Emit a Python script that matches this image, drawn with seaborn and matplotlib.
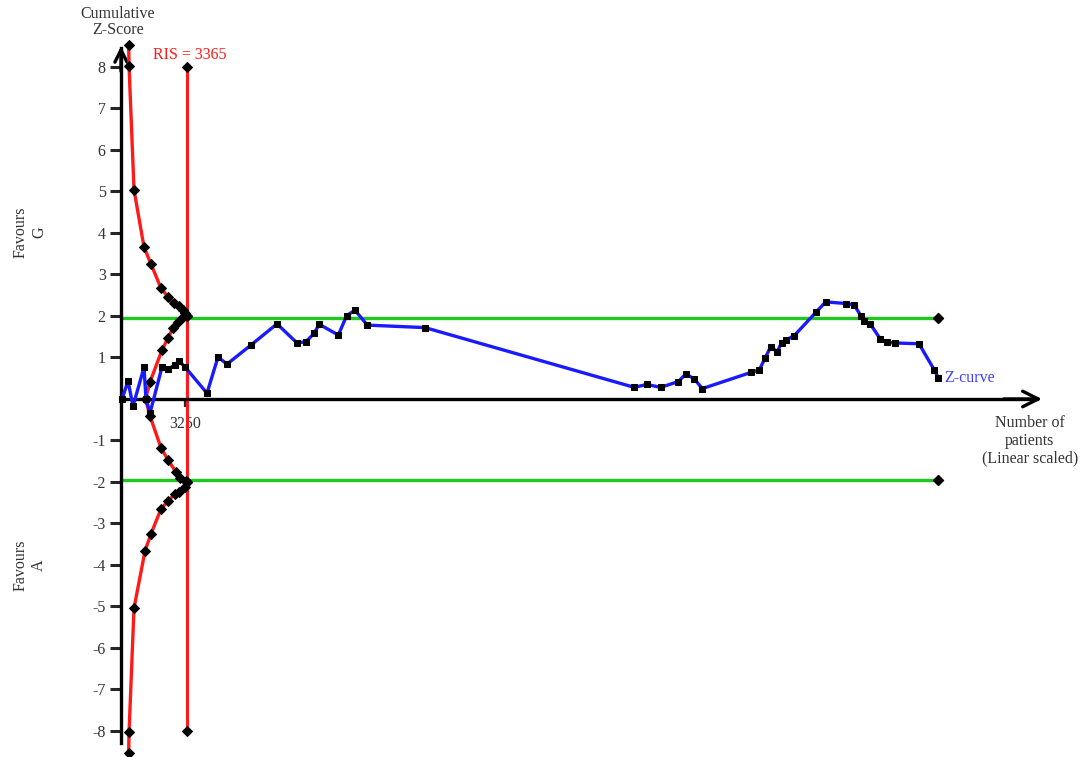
import matplotlib
matplotlib.use("Agg")
import matplotlib.pyplot as plt
import seaborn as sns
import pandas as pd

# ---------------- data ----------------
zcurve_n = [51, 357, 612, 1173, 1274, 1478, 2090, 2396, 2753, 2957, 3263, 4384, 4945,
            5404, 6627, 7953, 8972, 9431, 9839, 10109, 11078, 11506, 11929, 12556,
            15498, 26168, 26800, 27514, 28411, 28788, 29212, 29635, 32117, 32540,
            32831, 33122, 33458, 33682, 33886, 34309, 35431, 35925, 36960, 37368,
            37725, 37903, 38209, 38719, 39076, 39459, 40682, 41462, 41666]
zcurve_z = [0.0, 0.43, -0.17, 0.76, 0.0, -0.34, 0.77, 0.72, 0.82, 0.92, 0.77, 0.14, 1.01,
            0.84, 1.30, 1.81, 1.35, 1.38, 1.58, 1.80, 1.54, 2.01, 2.14, 1.78,
            1.72, 0.28, 0.35, 0.28, 0.42, 0.60, 0.49, 0.25, 0.64, 0.70,
            0.98, 1.26, 1.14, 1.36, 1.42, 1.52, 2.09, 2.34, 2.30, 2.27,
            2.00, 1.89, 1.80, 1.44, 1.37, 1.35, 1.33, 0.70, 0.51]

upper_n = [390, 410, 663, 1173, 1529, 2039, 2396, 2702, 2957, 3160, 3263, 3365]
upper_z = [8.53, 8.02, 5.04, 3.66, 3.25, 2.67, 2.46, 2.31, 2.24, 2.14, 2.08, 2.00]
lower_n = [390, 410, 663, 1224, 1529, 2039, 2396, 2753, 2957, 3263, 3365]
lower_z = [-8.53, -8.02, -5.04, -3.66, -3.25, -2.65, -2.46, -2.29, -2.24, -2.12, -2.00]

inner_up_n = [1250, 1478, 2090, 2396, 2651, 2906, 3161, 3365]
inner_up_z = [0.00, 0.41, 1.18, 1.47, 1.71, 1.86, 1.98, 2.00]
inner_lo_n = [1250, 1478, 2039, 2396, 2804, 3008, 3314, 3365]
inner_lo_z = [0.00, -0.41, -1.18, -1.47, -1.76, -1.90, -1.98, -2.00]

ris_value = 3365
ris_z = [-8.0, 8.0]
conv_n = [0, 41650]
conv_upper = [1.96, 1.96]
conv_lower = [-1.96, -1.96]

y_ticks = [-8, -7, -6, -5, -4, -3, -2, -1, 1, 2, 3, 4, 5, 6, 7, 8]
x_ticks = [3250]
x_tick_labels = ["3250"]

# ---------------- style ----------------
sns.set_theme(style="white")
plt.rcParams["font.family"] = ["Liberation Serif", "DejaVu Serif"]

RED = "#ff1a1a"
BLUE = "#1a1aff"
GREEN = "#1ec81e"
TXT = "#333333"

fig = plt.figure(figsize=(10.82, 7.57), dpi=100)
ax = fig.add_axes([0, 0, 1, 1])
ax.set_xlim(-6169, 48992)
ax.set_ylim(-8.627, 9.614)

# conventional boundaries (green)
for yy in (conv_upper, conv_lower):
    d = pd.DataFrame({"n": conv_n, "z": yy})
    sns.lineplot(data=d, x="n", y="z", ax=ax, color=GREEN, lw=2.4, sort=False,
                 estimator=None)
    ax.scatter(d["n"].iloc[-1:], d["z"].iloc[-1:], marker="D", s=26, color="black", zorder=6)

# RIS vertical line
d_ris = pd.DataFrame({"n": [ris_value, ris_value], "z": ris_z})
sns.lineplot(data=d_ris, x="n", y="z", ax=ax, color=RED, lw=2.2, sort=False,
             estimator=None, marker="D", markersize=5.5,
             markerfacecolor="black", markeredgecolor="black")

# alpha-spending / futility boundaries (red)
for nn, zz in ((upper_n, upper_z), (lower_n, lower_z),
               (inner_up_n, inner_up_z), (inner_lo_n, inner_lo_z)):
    d = pd.DataFrame({"n": nn, "z": zz})
    sns.lineplot(data=d, x="n", y="z", ax=ax, color=RED, lw=2.4, sort=False,
                 estimator=None, marker="D", markersize=5.5,
                 markerfacecolor="black", markeredgecolor="black", zorder=4)

# Z-curve (blue)
d_z = pd.DataFrame({"n": zcurve_n, "z": zcurve_z})
sns.lineplot(data=d_z, x="n", y="z", ax=ax, color=BLUE, lw=2.4, sort=False,
             estimator=None, marker="s", markersize=4.8,
             markerfacecolor="black", markeredgecolor="black", zorder=5)

# ---------------- axes ----------------
for s in ("top", "right"):
    ax.spines[s].set_visible(False)
ax.spines["left"].set_position(("data", 0))
ax.spines["bottom"].set_position(("data", 0))
ax.spines["left"].set_bounds(-8.3, 8.45)
ax.spines["bottom"].set_bounds(0, 46700)
for s in ("left", "bottom"):
    ax.spines[s].set_linewidth(2.4)
    ax.spines[s].set_color("black")
    ax.spines[s].set_zorder(3)

ax.annotate("", xy=(46950, 0), xytext=(45000, 0),
            arrowprops=dict(arrowstyle="->", lw=2.4, color="black", mutation_scale=28,
                            shrinkA=0, shrinkB=0))
ax.annotate("", xy=(0, 8.5), xytext=(0, 7.9),
            arrowprops=dict(arrowstyle="->", lw=2.4, color="black", mutation_scale=22,
                            shrinkA=0, shrinkB=0))

ax.set_yticks(y_ticks)
ax.set_yticklabels([str(t) for t in y_ticks])
ax.set_xticks(x_ticks)
ax.set_xticklabels(x_tick_labels)
ax.tick_params(axis="y", left=True, direction="out", length=8, width=2.2,
               labelsize=11.5, labelcolor=TXT, pad=3)
ax.tick_params(axis="x", bottom=True, direction="out", length=6, width=1.6,
               labelsize=11.5, labelcolor=TXT, pad=6)
ax.set_xlabel("")
ax.set_ylabel("")
ax.grid(False)

# ---------------- texts ----------------
ax.text(-153, 9.08, "Cumulative\nZ-Score", ha="center", va="center", fontsize=11.5,
        color=TXT, linespacing=1.0)
ax.text(3520, 8.29, "RIS = 3365", ha="center", va="center", fontsize=11.5, color=RED)
ax.text(41956, 0.51, "Z-curve", ha="left", va="center", fontsize=11.5, color="#4040ff")
ax.text(46340, -1.01, "Number of\npatients\n(Linear scaled)", ha="center", va="center",
        fontsize=11.5, color=TXT, linespacing=1.15)
ax.text(-4640, 4.02, "Favours\nG", ha="center", va="center", rotation=90,
        fontsize=11.5, color=TXT, linespacing=1.15)
ax.text(-4640, -4.0, "Favours\nA", ha="center", va="center", rotation=90,
        fontsize=11.5, color=TXT, linespacing=1.15)

fig.savefig("out.png", dpi=100)
